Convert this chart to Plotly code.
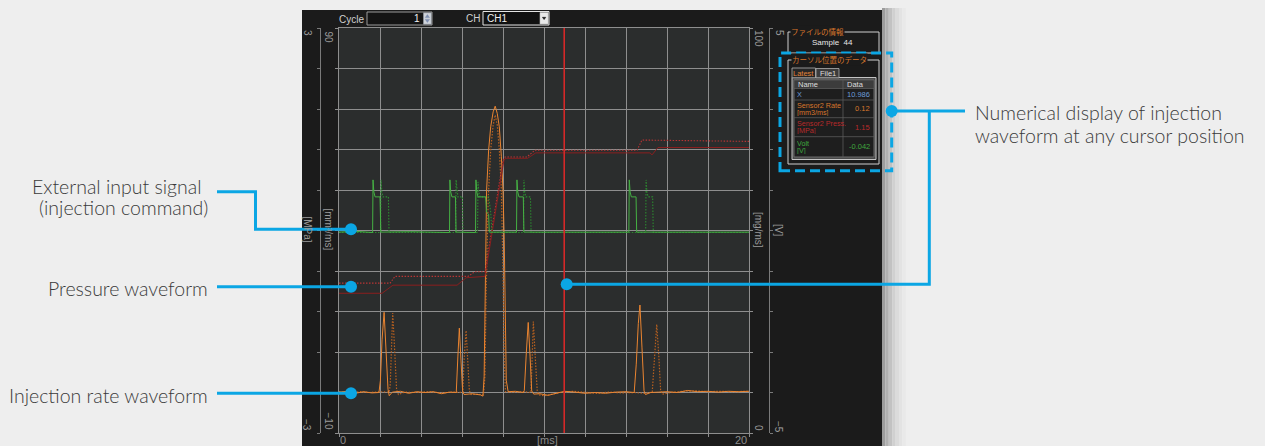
import plotly.graph_objects as go

W, H = 1265, 446

# ---------------- data ----------------
RATE_LATEST = [(0.0, 0.1), (0.4, 0.3), (0.8, -0.2), (1.2, 0.2), (1.6, -0.1), (1.95, 0.0), (2.02, 3), (2.1, 13),
               (2.2, 19.8), (2.3, 11), (2.39, 0.8), (2.45, -0.8), (2.6, 0.1), (3.0, 0.3), (3.4, -0.2), (3.8, 0.2),
               (4.2, 0.0), (4.6, 0.2), (5.0, -0.3), (5.4, 0.1), (5.72, 0.0), (5.8, 9), (5.87, 15.9), (5.95, 8),
               (6.03, 0.4), (6.1, -0.5), (6.5, -0.3), (6.9, -0.6), (7.02, -0.9), (7.08, 4), (7.12, 21), (7.2, 50),
               (7.3, 59.9), (7.4, 65.6), (7.52, 69.3), (7.62, 70.7), (7.72, 68.9), (7.82, 65.6), (7.92, 58.2),
               (8.0, 50), (8.06, 37.7), (8.11, 21), (8.16, 3), (8.25, 0.2), (8.6, 0.3), (9.0, 0.0), (9.04, 0.5),
               (9.14, 10), (9.23, 17.3), (9.32, 9), (9.40, 0.4), (9.5, -0.4), (9.8, -0.3), (10.2, -0.7),
               (10.6, -0.2), (11.0, 0.3), (11.5, 0.1), (12.0, -0.2), (12.5, 0.0), (13.0, -0.2), (13.5, 0.1),
               (14.0, 0.2), (14.4, 0.0), (14.5, 7), (14.6, 17), (14.68, 21.6), (14.78, 11), (14.88, 0.4),
               (14.95, -0.5), (15.2, 0.0), (15.6, 0.1), (16.0, 0.2), (16.5, 0.0), (17.0, 0.5), (17.5, 0.2),
               (18.0, 0.3), (18.5, 0.1), (19.0, 0.3), (19.5, 0.2), (20.0, 0.3)]

RATE_FILE1 = [(0.0, 0.2), (0.5, -0.1), (1.0, 0.2), (1.5, 0.0), (2.0, 0.2), (2.45, 0.1), (2.5, 2), (2.56, 12),
              (2.62, 19.6), (2.7, 12), (2.81, 0.6), (2.9, -0.5), (3.2, 0.1), (3.8, 0.0), (4.4, 0.2), (5.0, -0.1),
              (5.6, 0.1), (6.04, 0.0), (6.1, 8), (6.2, 15.3), (6.28, 8), (6.36, 0.4), (6.45, -0.5), (6.8, -0.4),
              (7.05, -0.6), (7.12, 4), (7.18, 25), (7.28, 48), (7.4, 60), (7.52, 66), (7.62, 68.5), (7.72, 66),
              (7.82, 60), (7.92, 50), (8.0, 30), (8.06, 8), (8.12, 0.2), (8.5, 0.1), (9.0, 0.2), (9.36, 0.0),
              (9.4, 5), (9.48, 17.5), (9.57, 9), (9.67, 0.4), (9.75, -0.6), (10.0, -0.8), (10.3, -0.5),
              (10.8, 0.0), (11.4, 0.3), (12.0, 0.0), (12.6, -0.2), (13.2, 0.1), (13.8, -0.1), (14.4, 0.0),
              (14.9, -0.2), (15.28, 0.1), (15.38, 9), (15.5, 16.8), (15.6, 9), (15.69, 0.4), (15.78, -0.4),
              (16.2, 0.0), (16.8, 0.3), (17.4, 0.4), (18.0, 0.2), (18.6, 0.3), (19.2, 0.2), (20.0, 0.3)]

PRESS_LATEST = [(0, -0.93), (2.10, -0.93), (2.63, -0.81), (5.76, -0.81), (6.2, -0.70), (7.12, -0.68),
                (8.05, 1.05), (8.15, 1.07), (9.2, 1.07), (9.6, 1.15), (15.17, 1.15), (15.27, 1.12),
                (15.56, 1.23), (20, 1.23)]

PRESS_FILE1 = [(0, -0.78), (2.49, -0.78), (2.73, -0.68), (6.29, -0.68), (6.63, -0.61), (7.12, -0.61),
               (8.0, 1.04), (8.1, 1.09), (9.17, 1.09), (9.56, 1.19), (14.54, 1.19), (14.78, 1.34), (20, 1.32)]

VOLT_LATEST = [(0, -0.04), (0.8, -0.02), (1.64, -0.05), (1.66, 1.25), (1.7, 0.95), (1.76, 0.83), (2.0, 0.83),
               (2.04, -0.04), (3.5, -0.03), (5.39, -0.05), (5.41, 1.25), (5.45, 0.95), (5.51, 0.83),
               (5.68, 0.83), (5.71, -0.04), (6.66, -0.05), (6.68, 1.25), (6.72, 0.95), (6.78, 0.83),
               (7.15, 0.83), (7.2, 0.45), (7.3, 0.4), (7.33, -0.04), (8.66, -0.04), (8.68, 1.25), (8.72, 0.95),
               (8.78, 0.83), (8.99, 0.83), (9.02, -0.04), (12.0, -0.03), (14.14, -0.04), (14.16, 1.25),
               (14.2, 0.95), (14.26, 0.83), (14.49, 0.83), (14.52, -0.04), (20, -0.04)]

VOLT_FILE1 = [(0, -0.05), (2.03, -0.05), (2.05, 1.25), (2.09, 0.95), (2.15, 0.83), (2.41, 0.83), (2.44, -0.05),
              (5.69, -0.05), (5.71, 1.25), (5.75, 0.95), (5.8, 0.83), (6.02, 0.83), (6.05, -0.05),
              (6.76, -0.05), (6.78, 1.2), (6.82, 0.95), (6.88, 0.83), (7.3, 0.83), (7.4, 0.45), (7.46, -0.05),
              (9.0, -0.05), (9.02, 1.25), (9.06, 0.95), (9.12, 0.83), (9.34, 0.83), (9.37, -0.05),
              (14.96, -0.05), (14.98, 1.25), (15.02, 0.95), (15.08, 0.83), (15.3, 0.83), (15.33, -0.05),
              (20, -0.05)]

CURSOR_T = 10.986
X_RANGE = [0, 20]
RATE_RANGE = [-10, 90]
PRESS_RANGE = [-3, 3]
VOLT_RANGE = [-5, 5]

TABLE_ROWS = [("X", None, "10.986", "#6b9bd6"),
              ("Sensor2 Rate", "[mm3/ms]", "0.12", "#d8762c"),
              ("Sensor2 Press.", "[MPa]", "1.15", "#b82a2a"),
              ("Volt", "[V]", "-0.042", "#3fa83f")]

# ---------------- helpers ----------------
def fx(x):
    return x / W


def fy(y):
    return 1 - y / H


BLUE = "#0ba6e4"
UI_FONT = "Liberation Sans"
JP_FONT = "Noto Sans CJK JP"

shapes = []
annotations = []


def rect(x0, y0, x1, y1, fill=None, line=None, lw=1, layer="above", dash=None):
    d = dict(type="rect", xref="paper", yref="paper", x0=fx(x0), x1=fx(x1), y0=fy(y1), y1=fy(y0),
             layer=layer, fillcolor=fill if fill else "rgba(0,0,0,0)",
             line=dict(color=line if line else "rgba(0,0,0,0)", width=lw if line else 0))
    if dash:
        d["line"]["dash"] = dash
    shapes.append(d)


def path(pts, color, lw=1, fill=None, layer="above"):
    s = "M " + " L ".join(f"{fx(a):.6f},{fy(b):.6f}" for a, b in pts)
    if fill:
        s += " Z"
    shapes.append(dict(type="path", xref="paper", yref="paper", path=s, layer=layer,
                       line=dict(color=color, width=lw),
                       fillcolor=fill if fill else "rgba(0,0,0,0)"))


def dot(cx, cy, r=6, color=BLUE):
    shapes.append(dict(type="circle", xref="paper", yref="paper", x0=fx(cx - r), x1=fx(cx + r),
                       y0=fy(cy + r), y1=fy(cy - r), fillcolor=color, line=dict(color=color, width=0)))


def text(x, y, s, size=10, color="#9a9a9a", xanchor="center", angle=0, family=UI_FONT, bg=None, weight=None,
         height=None):
    f = dict(size=size, color=color, family=family)
    if weight:
        f["weight"] = weight
    a = dict(xref="paper", yref="paper", x=fx(x), y=fy(y), text=s, showarrow=False,
             xanchor=xanchor, yanchor="middle", textangle=angle, font=f, borderpad=0)
    if bg:
        a["bgcolor"] = bg
    if height:
        a["height"] = height
    annotations.append(a)


# ---------------- background panel ----------------
shadow = ["#9c9c9c", "#b0b0b0", "#c2c2c2", "#d0d0d0", "#dbdbdb", "#e3e3e3", "#e9e9e9"]
for i, c in enumerate(shadow):
    rect(882 + i * 3.4, 8, 882 + (i + 1) * 3.4, 446, fill=c, layer="below")
rect(302, 10, 882, 446, fill="#1b1b1b", layer="below")
shapes.append(dict(type="rect", xref="x domain", yref="y domain", x0=0, x1=1, y0=0, y1=1,
                   fillcolor="#2b2d2d", line=dict(width=0), layer="below"))

# ---------------- top toolbar ----------------
text(351, 19, "Cycle", 10, "#d0d0d0")
rect(367, 12, 432, 25, fill="#141414", line="#9a9a9a")
text(421, 18.5, "1", 10, "#f0f0f0", xanchor="right")
rect(423.5, 12.8, 431.3, 24.2, fill="#cfd3da", line="#9aa0a8", lw=0.6)
path([(425.3, 17.6), (427.4, 14.6), (429.5, 17.6)], "#7f8fb0", 0.5, fill="#7f8fb0")
path([(425.3, 19.4), (427.4, 22.4), (429.5, 19.4)], "#7f8fb0", 0.5, fill="#7f8fb0")
text(473, 18.5, "CH", 10, "#d0d0d0")
rect(483, 11.5, 549, 25, fill="#111111", line="#e4e4e4")
text(486, 18.5, "CH1", 10, "#f0f0f0", xanchor="left")
rect(540, 12.5, 548.2, 24, fill="#e8e8e8", line="#bdbdbd", lw=0.6)
path([(542.4, 17.3), (545.8, 17.3), (544.1, 19.6)], "#111111", 0.5, fill="#111111")

# ---------------- axis labels ----------------
text(307, 33, "3", 10, angle=90)
text(307, 425, "−3", 10, angle=90)
text(307.5, 229, "[MPa]", 10, angle=90)
text(328.5, 37, "90", 10, angle=90)
text(328.5, 421, "−10", 10, angle=90)
text(328.5, 229, "[mm³/ms]", 10, angle=90)
text(759, 38, "100", 10, angle=90)
text(759, 428, "0", 10, angle=90)
text(759, 230, "[mg/ms]", 10, angle=90)
text(779, 33, "5", 10, angle=90)
text(779, 427, "−5", 10, angle=90)
text(779, 230, "[V]", 10, angle=90)
text(343, 439.5, "0", 11, "#8c8c8c")
text(547, 439.5, "[ms]", 11, "#8c8c8c")
text(741, 439.5, "20", 11, "#8c8c8c")

# ---------------- right info panels ----------------
rect(788, 32, 879, 53, line="#cfcfcf")
text(790, 32, "ファイルの情報", 7.5, "#d9772b", xanchor="left", family=JP_FONT, bg="#1b1b1b")
text(832, 43, "Sample\u00a0\u00a044", 8, "#e6e6e6")
rect(788, 60, 879, 164, line="#cfcfcf")
text(791, 60, "カーソル位置のデータ", 7.5, "#d9772b", xanchor="left", family=JP_FONT, bg="#1b1b1b")
rect(792, 77.5, 876, 159.5, fill="#4a4a4a", line="#c4c4c4")
rect(792, 68, 815.5, 77.8, fill="#262626", line="#b0b0b0", lw=0.8)
text(803.5, 73, "Latest", 7.5, "#e0843a")
rect(816, 68.5, 839, 77.8, fill="#3c3c3c", line="#b0b0b0", lw=0.8)
text(827.5, 73, "File1", 7.5, "#dddddd")
rect(794, 80, 874, 157, fill="#1e1e1e", line="#6a6a6a")
rect(794, 80, 874, 88.5, fill="#3c3c3c", line="#6a6a6a", lw=0.6)
text(797, 84.5, "Name", 7.5, "#dddddd", xanchor="left")
text(846, 84.5, "Data", 7.5, "#dddddd", xanchor="left")
path([(843, 80), (843, 157)], "#5a5a5a", 0.8)
row_bounds = [88.5, 100, 117.7, 136.7, 157]
for yb in row_bounds[1:-1]:
    path([(794, yb), (874, yb)], "#5a5a5a", 0.8)
for i, (name, unit, val, col) in enumerate(TABLE_ROWS):
    y0, y1 = row_bounds[i], row_bounds[i + 1]
    mid = (y0 + y1) / 2
    if unit:
        text(796, mid - 3.4, name, 7.2, col, xanchor="left", height=7)
        text(796, mid + 3.4, unit, 7.2, col, xanchor="left", height=7)
    else:
        text(796, mid, name, 7.2, col, xanchor="left")
    text(871, mid, val, 7.5, col, xanchor="right")

# dashed highlight around the cursor table
rect(780, 53, 891.7, 170.7, line=BLUE, lw=3, dash="10px,5px")

# ---------------- callouts ----------------
DESC_COLOR = "#3a3a3a"
DESC_SIZE = 19.5
DESC_FONT = "Lato"
DESC_W = 300
text(203, 186, "External input signal", DESC_SIZE, DESC_COLOR, xanchor="right", family=DESC_FONT,
     weight=DESC_W, height=21)
text(209, 207.5, "(injection command)", DESC_SIZE, DESC_COLOR, xanchor="right", family=DESC_FONT,
     weight=DESC_W, height=21)
text(209, 288, "Pressure waveform", DESC_SIZE, DESC_COLOR, xanchor="right", family=DESC_FONT, weight=DESC_W)
text(209, 395, "Injection rate waveform", DESC_SIZE, DESC_COLOR, xanchor="right", family=DESC_FONT,
     weight=DESC_W)
text(974, 112.5, "Numerical display of injection", DESC_SIZE, DESC_COLOR, xanchor="left", family=DESC_FONT,
     weight=DESC_W, height=21)
text(974, 135, "waveform at any cursor position", DESC_SIZE, DESC_COLOR, xanchor="left", family=DESC_FONT,
     weight=DESC_W, height=21)

# cursor line (placed by the x scale)
shapes.append(dict(type="line", xref="x", yref="y domain", x0=CURSOR_T, x1=CURSOR_T, y0=0, y1=1,
                   line=dict(color="#d42828", width=1.6), layer="above"))

path([(217, 191.7), (255.5, 191.7), (255.5, 229.3), (351, 229.3)], BLUE, 3)
dot(351, 229.3)
path([(217, 286.7), (351, 286.7)], BLUE, 3)
dot(351, 286.7)
path([(217, 393.3), (351, 393.3)], BLUE, 3)
dot(351, 393.3)
path([(566.7, 284.3), (929.3, 284.3), (929.3, 111)], BLUE, 3)
path([(891.7, 111), (965, 111)], BLUE, 3)
dot(566.7, 284.3)
dot(891.7, 111)

bg = [s for s in shapes if s.get("layer") == "below"]
fg = [s for s in shapes if s.get("layer") != "below"]
shapes = bg + fg

# ---------------- traces ----------------
fig = go.Figure()


def add(series, color, yaxis, dash="solid", width=1.0):
    t = [p[0] for p in series]
    v = [p[1] for p in series]
    fig.add_trace(go.Scatter(x=t, y=v, mode="lines", yaxis=yaxis, hoverinfo="skip",
                             line=dict(color=color, width=width, dash=dash)))


add(VOLT_FILE1, "#2c8a30", "y3", "1.5px,1.5px", 1.1)
add(VOLT_LATEST, "#45b043", "y3", "solid", 1.0)
add(PRESS_FILE1, "#b83434", "y2", "1.5px,1.5px", 1.1)
add(PRESS_LATEST, "#8a1f1f", "y2", "solid", 1.0)
add(RATE_FILE1, "#b8601f", "y", "1.5px,1.5px", 1.2)
add(RATE_LATEST, "#ea8430", "y", "solid", 1.0)

GRID = "#8e8e8e"
XD = [339 / W, 749 / W]
YD = [1 - 433 / H, 1 - 28 / H]

fig.update_layout(
    width=W, height=H, margin=dict(l=0, r=0, t=0, b=0),
    paper_bgcolor="#eeeeee", plot_bgcolor="#2b2d2d", showlegend=False,
    xaxis=dict(domain=XD, range=X_RANGE, dtick=2, tick0=0, showgrid=True, gridcolor=GRID, gridwidth=1,
               showticklabels=False, zeroline=False, showline=True, linecolor=GRID, mirror=True,
               ticks="outside", ticklen=3, tickcolor=GRID),
    yaxis=dict(domain=YD, range=RATE_RANGE, dtick=10, tick0=-10, showgrid=True, gridcolor=GRID, gridwidth=1,
               showticklabels=False, zeroline=False, showline=True, linecolor=GRID, mirror="ticks",
               ticks="outside", ticklen=3, tickcolor=GRID),
    yaxis2=dict(overlaying="y", range=PRESS_RANGE, anchor="free", position=320 / W, side="left",
                dtick=0.6, tick0=-3, showgrid=False, showticklabels=False, zeroline=False,
                showline=True, linecolor="#7a7a7a", ticks="outside", ticklen=3, tickcolor="#7a7a7a"),
    yaxis3=dict(overlaying="y", range=VOLT_RANGE, anchor="free", position=769 / W, side="right",
                dtick=1, tick0=-5, showgrid=False, showticklabels=False, zeroline=False,
                showline=True, linecolor="#7a7a7a", ticks="outside", ticklen=3, tickcolor="#7a7a7a"),
    shapes=shapes, annotations=annotations,
)

fig.write_html("out.html", config={"displayModeBar": False},
               post_script="document.body.style.margin='0';document.body.style.padding='0';"
                           "document.body.style.overflow='hidden';"
                           "document.documentElement.style.background='#eeeeee';")
